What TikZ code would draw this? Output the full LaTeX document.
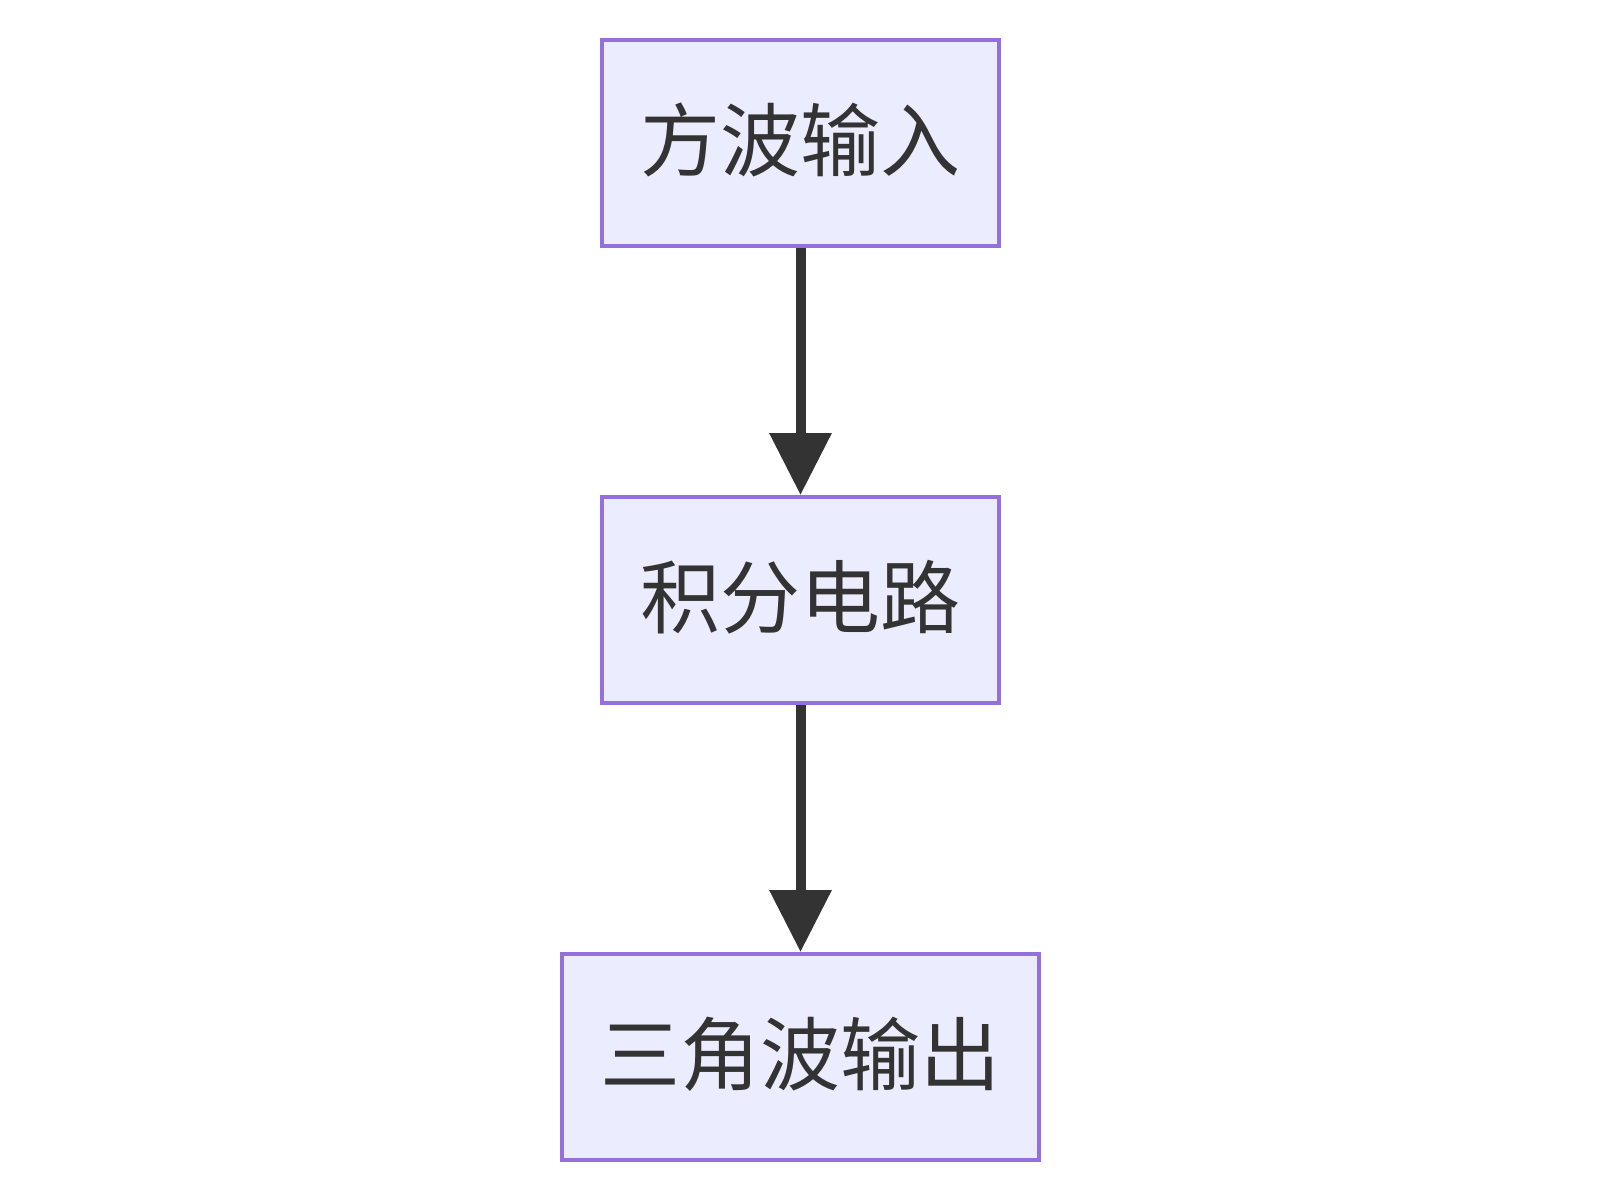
\documentclass[tikz,border=0pt]{standalone}
\usepackage{fontspec}
\newfontfamily\cjk{Noto Sans CJK SC}
\usetikzlibrary{arrows.meta}
\definecolor{boxfill}{HTML}{ECECFF}
\definecolor{boxdraw}{HTML}{9370DB}
\definecolor{ink}{HTML}{333333}
\tikzset{
  flowbox/.style={draw=boxdraw, fill=boxfill, line width=4pt, minimum height=206pt,
    inner sep=0pt, text=ink, text height=70pt, text depth=15pt,
    font=\cjk\fontsize{80}{96}\selectfont},
  flowarrow/.style={draw=ink, line width=10pt, -{Triangle[width=60pt,length=62pt]}}
}
\begin{document}
\begin{tikzpicture}[x=1pt,y=-1pt]
\useasboundingbox (0,0) rectangle (1600,1200);
\node[flowbox, minimum width=397pt] (a) at (800.5,143) {方波输入};
\node[flowbox, minimum width=397pt] (b) at (800.5,600) {积分电路};
\node[flowbox, minimum width=477pt] (c) at (800.5,1057) {三角波输出};
\draw[flowarrow] (a.south) -- (b.north);
\draw[flowarrow] (b.south) -- (c.north);
\end{tikzpicture}
\end{document}
